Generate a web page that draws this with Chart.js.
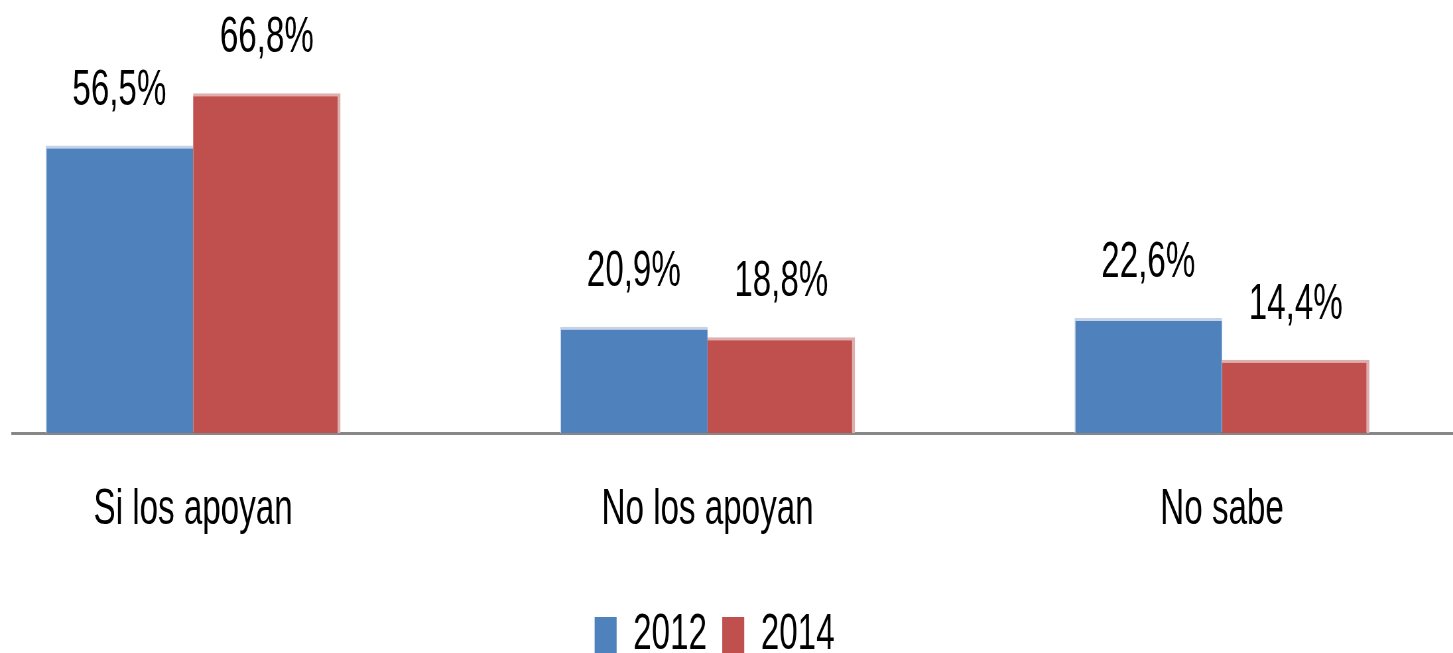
<!DOCTYPE html>
<html><head><meta charset="utf-8">
<style>html,body{margin:0;padding:0;background:#fff;overflow:hidden}#wrap{width:1453px;height:653px;position:relative}</style>
<script src="https://cdn.jsdelivr.net/npm/chart.js@4.4.1/dist/chart.umd.min.js"></script>
</head><body><div id="wrap"><canvas id="c" width="2191" height="653" style="width:1453px;height:653px;display:block"></canvas></div>
<script>
const categories = ['Si los apoyan', 'No los apoyan', 'No sabe'];
const seriesNames = ['2012', '2014'];
const values2012 = [56.5, 20.9, 22.6];
const values2014 = [66.8, 18.8, 14.4];

// canvas is drawn wider and shown condensed (horizontal factor K) to match the narrow lettering
const K = 1453 / 2191;
const FONT = "'Liberation Sans', Arial, sans-serif";
const fmt = v => v.toFixed(1).replace('.', ',') + '%';

const valueLabels = {
  id: 'valueLabels',
  afterDatasetsDraw(chart) {
    const ctx = chart.ctx;
    ctx.save();
    ctx.font = '50px ' + FONT;
    ctx.fillStyle = '#000';
    ctx.textAlign = 'center';
    ctx.textBaseline = 'alphabetic';
    chart.data.datasets.forEach((ds, di) => {
      chart.getDatasetMeta(di).data.forEach((bar, i) => {
        ctx.fillText(fmt(ds.data[i].y), bar.x, bar.y - 41);
      });
    });
    ctx.restore();
  }
};

// nudge the legend a little to the left, as in the original
const legendShift = {
  id: 'legendShift',
  afterLayout(chart) {
    const lg = chart.legend;
    if (lg) { lg.left -= 27; lg.right -= 27; }
  }
};

new Chart(document.getElementById('c'), {
  type: 'bar',
  data: {
    datasets: [
      {
        label: seriesNames[0],
        data: categories.map((c, i) => ({x: i, y: values2012[i]})),
        backgroundColor: '#4F81BD',
        borderColor: '#C6D2E7',
        borderWidth: {top: 3, left: 1.5, right: 0, bottom: 0},
        borderSkipped: false
      },
      {
        label: seriesNames[1],
        data: categories.map((c, i) => ({x: i, y: values2014[i]})),
        backgroundColor: '#C0504D',
        borderColor: '#DDB0AF',
        borderWidth: {top: 3, left: 0, right: 4.5, bottom: 0},
        borderSkipped: false
      }
    ]
  },
  options: {
    responsive: false,
    animation: false,
    devicePixelRatio: 1,
    categoryPercentage: 0.5734,
    barPercentage: 1,
    layout: {padding: {top: 26, left: 12 / K, right: 0, bottom: 0}},
    plugins: {
      tooltip: {enabled: false},
      legend: {
        position: 'bottom',
        maxHeight: 66,
        labels: {
          boxWidth: 22 / K,
          boxHeight: 36,
          padding: 23,
          color: '#000',
          font: {size: 50, family: FONT},
          generateLabels: chart => Chart.defaults.plugins.legend.labels.generateLabels(chart)
            .map(it => Object.assign(it, {lineWidth: 0, strokeStyle: 'rgba(0,0,0,0)'}))
        }
      }
    },
    scales: {
      x: {
        type: 'linear',
        offset: false,
        min: -0.352,
        max: 2.449,
        grid: {display: false, drawTicks: false},
        border: {display: true, color: '#878787', width: 3},
        afterBuildTicks: s => { s.ticks = categories.map((c, i) => ({value: i})); },
        ticks: {
          padding: 10,
          maxRotation: 0,
          autoSkip: false,
          color: '#000',
          font: {size: 50, family: FONT, lineHeight: 2.68},
          callback: v => categories[v] ?? ''
        }
      },
      y: {
        display: false,
        min: 0,
        max: 80
      }
    }
  },
  plugins: [valueLabels, legendShift]
});
</script>
</body></html>
